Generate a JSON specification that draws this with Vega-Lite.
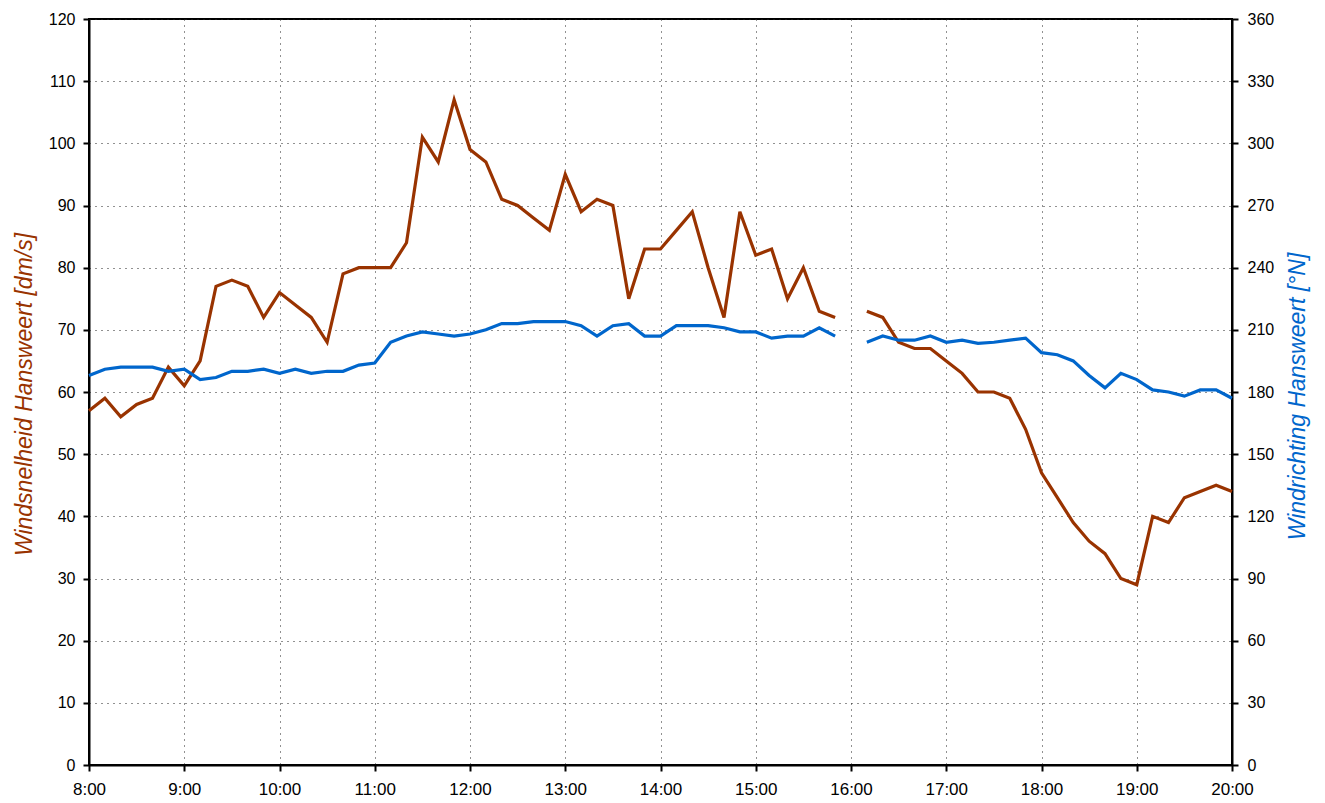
{
  "$schema": "https://vega.github.io/schema/vega-lite/v6.json",
  "width": 1143,
  "height": 746,
  "autosize": {"type": "none"},
  "padding": {"left": 89, "top": 19, "right": 93, "bottom": 38},
  "background": "white",
  "config": {
    "view": {"stroke": "#000", "strokeWidth": 2},
    "font": "Liberation Sans",
    "axis": {
      "domainColor": "#000",
      "domainWidth": 2,
      "tickColor": "#000",
      "tickWidth": 2,
      "tickSize": 6,
      "labelColor": "#000",
      "labelFont": "Liberation Sans",
      "labelFontSize": 16,
      "titleFont": "Liberation Sans",
      "titleFontStyle": "italic",
      "titleFontWeight": "normal",
      "titleFontSize": 23,
      "gridColor": "#222",
      "gridDash": [1, 5],
      "gridWidth": 1,
      "gridOpacity": 1
    }
  },
  "data": {
    "values": [
      {"t": "2024-01-01T08:00", "speed": 57, "dir": 188},
      {"t": "2024-01-01T08:10", "speed": 59, "dir": 191},
      {"t": "2024-01-01T08:20", "speed": 56, "dir": 192},
      {"t": "2024-01-01T08:30", "speed": 58, "dir": 192},
      {"t": "2024-01-01T08:40", "speed": 59, "dir": 192},
      {"t": "2024-01-01T08:50", "speed": 64, "dir": 190},
      {"t": "2024-01-01T09:00", "speed": 61, "dir": 191},
      {"t": "2024-01-01T09:10", "speed": 65, "dir": 186},
      {"t": "2024-01-01T09:20", "speed": 77, "dir": 187},
      {"t": "2024-01-01T09:30", "speed": 78, "dir": 190},
      {"t": "2024-01-01T09:40", "speed": 77, "dir": 190},
      {"t": "2024-01-01T09:50", "speed": 72, "dir": 191},
      {"t": "2024-01-01T10:00", "speed": 76, "dir": 189},
      {"t": "2024-01-01T10:10", "speed": 74, "dir": 191},
      {"t": "2024-01-01T10:20", "speed": 72, "dir": 189},
      {"t": "2024-01-01T10:30", "speed": 68, "dir": 190},
      {"t": "2024-01-01T10:40", "speed": 79, "dir": 190},
      {"t": "2024-01-01T10:50", "speed": 80, "dir": 193},
      {"t": "2024-01-01T11:00", "speed": 80, "dir": 194},
      {"t": "2024-01-01T11:10", "speed": 80, "dir": 204},
      {"t": "2024-01-01T11:20", "speed": 84, "dir": 207},
      {"t": "2024-01-01T11:30", "speed": 101, "dir": 209},
      {"t": "2024-01-01T11:40", "speed": 97, "dir": 208},
      {"t": "2024-01-01T11:50", "speed": 107, "dir": 207},
      {"t": "2024-01-01T12:00", "speed": 99, "dir": 208},
      {"t": "2024-01-01T12:10", "speed": 97, "dir": 210},
      {"t": "2024-01-01T12:20", "speed": 91, "dir": 213},
      {"t": "2024-01-01T12:30", "speed": 90, "dir": 213},
      {"t": "2024-01-01T12:40", "speed": 88, "dir": 214},
      {"t": "2024-01-01T12:50", "speed": 86, "dir": 214},
      {"t": "2024-01-01T13:00", "speed": 95, "dir": 214},
      {"t": "2024-01-01T13:10", "speed": 89, "dir": 212},
      {"t": "2024-01-01T13:20", "speed": 91, "dir": 207},
      {"t": "2024-01-01T13:30", "speed": 90, "dir": 212},
      {"t": "2024-01-01T13:40", "speed": 75, "dir": 213},
      {"t": "2024-01-01T13:50", "speed": 83, "dir": 207},
      {"t": "2024-01-01T14:00", "speed": 83, "dir": 207},
      {"t": "2024-01-01T14:10", "speed": 86, "dir": 212},
      {"t": "2024-01-01T14:20", "speed": 89, "dir": 212},
      {"t": "2024-01-01T14:30", "speed": 80, "dir": 212},
      {"t": "2024-01-01T14:40", "speed": 72, "dir": 211},
      {"t": "2024-01-01T14:50", "speed": 89, "dir": 209},
      {"t": "2024-01-01T15:00", "speed": 82, "dir": 209},
      {"t": "2024-01-01T15:10", "speed": 83, "dir": 206},
      {"t": "2024-01-01T15:20", "speed": 75, "dir": 207},
      {"t": "2024-01-01T15:30", "speed": 80, "dir": 207},
      {"t": "2024-01-01T15:40", "speed": 73, "dir": 211},
      {"t": "2024-01-01T15:50", "speed": 72, "dir": 207},
      {"t": "2024-01-01T16:00", "speed": null, "dir": null},
      {"t": "2024-01-01T16:10", "speed": 73, "dir": 204},
      {"t": "2024-01-01T16:20", "speed": 72, "dir": 207},
      {"t": "2024-01-01T16:30", "speed": 68, "dir": 205},
      {"t": "2024-01-01T16:40", "speed": 67, "dir": 205},
      {"t": "2024-01-01T16:50", "speed": 67, "dir": 207},
      {"t": "2024-01-01T17:00", "speed": 65, "dir": 204},
      {"t": "2024-01-01T17:10", "speed": 63, "dir": 205},
      {"t": "2024-01-01T17:20", "speed": 60, "dir": 203.5},
      {"t": "2024-01-01T17:30", "speed": 60, "dir": 204},
      {"t": "2024-01-01T17:40", "speed": 59, "dir": 205},
      {"t": "2024-01-01T17:50", "speed": 54, "dir": 206},
      {"t": "2024-01-01T18:00", "speed": 47, "dir": 199},
      {"t": "2024-01-01T18:10", "speed": 43, "dir": 198},
      {"t": "2024-01-01T18:20", "speed": 39, "dir": 195},
      {"t": "2024-01-01T18:30", "speed": 36, "dir": 188},
      {"t": "2024-01-01T18:40", "speed": 34, "dir": 182},
      {"t": "2024-01-01T18:50", "speed": 30, "dir": 189},
      {"t": "2024-01-01T19:00", "speed": 29, "dir": 186},
      {"t": "2024-01-01T19:10", "speed": 40, "dir": 181},
      {"t": "2024-01-01T19:20", "speed": 39, "dir": 180},
      {"t": "2024-01-01T19:30", "speed": 43, "dir": 178},
      {"t": "2024-01-01T19:40", "speed": 44, "dir": 181},
      {"t": "2024-01-01T19:50", "speed": 45, "dir": 181},
      {"t": "2024-01-01T20:00", "speed": 44, "dir": 177}
    ]
  },
  "encoding": {
    "x": {
      "field": "t",
      "type": "temporal",
      "scale": {
        "domain": ["2024-01-01T08:00", "2024-01-01T20:00"],
        "nice": false
      },
      "axis": {
        "title": null,
        "format": "%-H:%M",
        "values": ["2024-01-01T08:00", "2024-01-01T09:00", "2024-01-01T10:00", "2024-01-01T11:00", "2024-01-01T12:00", "2024-01-01T13:00", "2024-01-01T14:00", "2024-01-01T15:00", "2024-01-01T16:00", "2024-01-01T17:00", "2024-01-01T18:00", "2024-01-01T19:00", "2024-01-01T20:00"],
        "labelFontSize": 17,
        "labelPadding": 10,
        "grid": true,
        "labelFlush": false,
        "labelOverlap": false
      }
    }
  },
  "layer": [
    {
      "mark": {"type": "line", "color": "#993300", "strokeWidth": 3.2},
      "encoding": {
        "y": {
          "field": "speed",
          "type": "quantitative",
          "scale": {"domain": [0, 120], "nice": false},
          "axis": {
            "orient": "left",
            "title": "Windsnelheid Hansweert [dm/s]",
            "titleColor": "#993300",
            "titleAngle": 270,
            "titleX": -58,
            "titleY": 375,
            "titleAlign": "center",
            "titleBaseline": "alphabetic",
            "values": [0, 10, 20, 30, 40, 50, 60, 70, 80, 90, 100, 110, 120],
            "labelPadding": 8,
            "grid": true
          }
        }
      }
    },
    {
      "mark": {"type": "line", "color": "#0066CC", "strokeWidth": 3.2},
      "encoding": {
        "y": {
          "field": "dir",
          "type": "quantitative",
          "scale": {"domain": [0, 360], "nice": false},
          "axis": {
            "orient": "right",
            "title": "Windrichting Hansweert [°N]",
            "titleColor": "#0066CC",
            "titleAngle": 270,
            "titleX": 72,
            "titleY": 377,
            "titleAlign": "center",
            "titleBaseline": "alphabetic",
            "values": [0, 30, 60, 90, 120, 150, 180, 210, 240, 270, 300, 330, 360],
            "labelPadding": 9,
            "grid": false
          }
        }
      }
    }
  ],
  "resolve": {"scale": {"y": "independent"}}
}
